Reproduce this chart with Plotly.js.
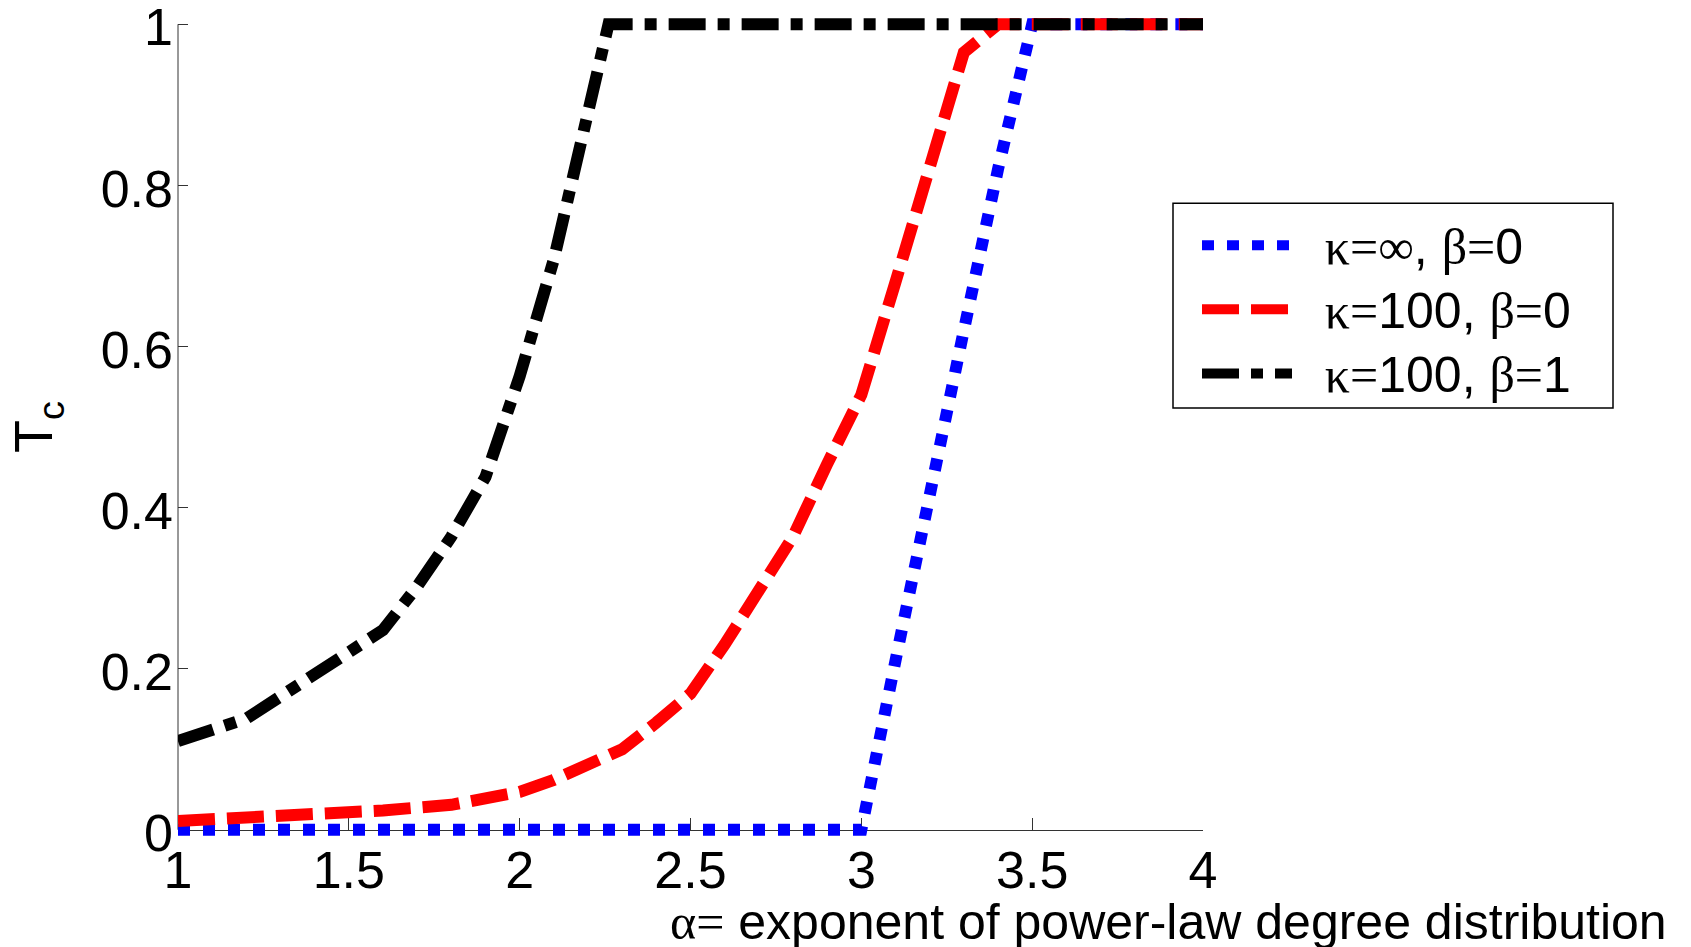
<!DOCTYPE html>
<html>
<head>
<meta charset="utf-8">
<script src="https://cdn.plot.ly/plotly-3.0.1.min.js"></script>
<style>html,body{margin:0;padding:0;background:#fff;}#chart{width:1691px;height:947px;}</style>
</head>
<body>
<div id="chart"></div>
<script>
// Series
const blueX = [1, 1.5, 2, 2.5, 3.0, 3.1, 3.2, 3.3, 3.4, 3.5, 3.75, 4];
const blueY = [0, 0, 0, 0, 0, 0.21, 0.42, 0.62, 0.82, 1, 1, 1];

const redX = [1, 1.2, 1.4, 1.6, 1.8, 2.0, 2.1, 2.2, 2.3, 2.4, 2.5, 2.6, 2.7, 2.8, 2.9, 3.0, 3.1, 3.2, 3.3, 3.4, 3.7, 4];
const redY = [0.011, 0.015, 0.019, 0.024, 0.031, 0.047, 0.062, 0.080, 0.100, 0.133, 0.169, 0.230, 0.296, 0.364, 0.454, 0.540, 0.680, 0.825, 0.965, 1, 1, 1];

const blackX = [1, 1.2, 1.4, 1.6, 1.7, 1.8, 1.9, 2.0, 2.1, 2.2, 2.26, 2.5, 3, 3.5, 4];
const blackY = [0.11, 0.138, 0.193, 0.248, 0.302, 0.364, 0.438, 0.563, 0.708, 0.901, 1, 1, 1, 1, 1];

const xTicks = [1, 1.5, 2, 2.5, 3, 3.5, 4];
const yTicks = [0, 0.2, 0.4, 0.6, 0.8, 1];
const yTickText = ['0', '0.2', '0.4', '0.6', '0.8', '1'];

const serif = "font-family:'Liberation Serif', 'DejaVu Serif', serif";
const big = "font-size:50px";
const names = [
  "<span style=\"" + big + "\">&nbsp;&nbsp;<span style=\"" + serif + "\">κ=∞</span>, <span style=\"" + serif + "\">β=</span>0</span>",
  "<span style=\"" + big + "\">&nbsp;&nbsp;<span style=\"" + serif + "\">κ=</span>100, <span style=\"" + serif + "\">β=</span>0</span>",
  "<span style=\"" + big + "\">&nbsp;&nbsp;<span style=\"" + serif + "\">κ=</span>100, <span style=\"" + serif + "\">β=</span>1</span>"
];

const font = "Arial, 'Liberation Sans', sans-serif";

const traces = [
  {x: blueX, y: blueY, name: names[0], mode: 'lines', cliponaxis: false,
   line: {color: '#0000ff', width: 12, dash: '12px,13px'}},
  {x: redX, y: redY, name: names[1], mode: 'lines', cliponaxis: false,
   line: {color: '#ff0000', width: 12, dash: '37px,12px'}},
  {x: blackX, y: blackY, name: names[2], mode: 'lines', cliponaxis: false,
   line: {color: '#000000', width: 12, dash: '37px,12px,12px,12px'}}
];

const W = 1691, H = 947;
const unit = 806;          // pixels per 1.0 on the y axis
const pad = 0.009;         // small range padding so thick lines at 0 and 1 are not clipped
const L = 178, R = 488;
const T = 24 - pad * unit, B = 117 - pad * unit;
const pw = W - L - R, ph = H - T - B;
const px = v => (v - L) / pw;
const py = v => (H - B - v) / ph;

const layout = {
  width: W, height: H,
  margin: {l: L, r: R, t: T, b: B, pad: 0},
  paper_bgcolor: '#fff', plot_bgcolor: '#fff',
  font: {family: font, color: '#000'},
  showlegend: true,
  legend: {
    x: px(1197), y: py(208), xanchor: 'left', yanchor: 'top',
    bgcolor: 'rgba(0,0,0,0)', borderwidth: 0,
    font: {family: font, size: 47, color: '#000'},
    itemwidth: 90
  },
  xaxis: {
    range: [1, 4], tickvals: xTicks, ticktext: xTicks.map(String),
    anchor: 'free', position: (pad * unit) / ph,
    showgrid: false, zeroline: false, showline: true, linecolor: '#333', linewidth: 1,
    ticks: 'inside', ticklen: 12, tickcolor: '#333', tickwidth: 1,
    tickfont: {family: font, size: 52, color: '#000'},
    ticklabelstandoff: -5, ticklabeloverflow: 'allow', layer: 'below traces'
  },
  yaxis: {
    range: [-pad, 1 + pad], tickvals: yTicks, ticktext: yTickText,
    showgrid: false, zeroline: false, showline: false,
    ticks: 'inside', ticklen: 10, tickcolor: '#333', tickwidth: 1,
    tickfont: {family: font, size: 52, color: '#000'},
    ticklabelstandoff: 4, ticklabelshift: 3, ticklabeloverflow: 'allow', layer: 'below traces',
    title: {text: 'T<sub>c</sub>', font: {family: font, size: 54, color: '#000'}, standoff: 30}
  },
  annotations: [{
    xref: 'paper', yref: 'paper', x: px(1669), y: py(922), xanchor: 'right', yanchor: 'middle',
    showarrow: false, text: '<span style="' + serif + '">α=</span> exponent of power-law degree distribution',
    font: {family: font, size: 50, color: '#000'}
  }],
  shapes: [
    {type: 'line', xref: 'x domain', yref: 'y', x0: 0, x1: 0, y0: 0, y1: 1, layer: 'below',
     line: {color: '#333', width: 1}},
    {type: 'rect', xref: 'paper', yref: 'paper',
     x0: px(1173), x1: px(1613), y0: py(408), y1: py(203),
     line: {color: '#000', width: 1.5}, fillcolor: 'rgba(0,0,0,0)'}
  ]
};

Plotly.newPlot('chart', traces, layout, {displayModeBar: false, staticPlot: true});
</script>
</body>
</html>
